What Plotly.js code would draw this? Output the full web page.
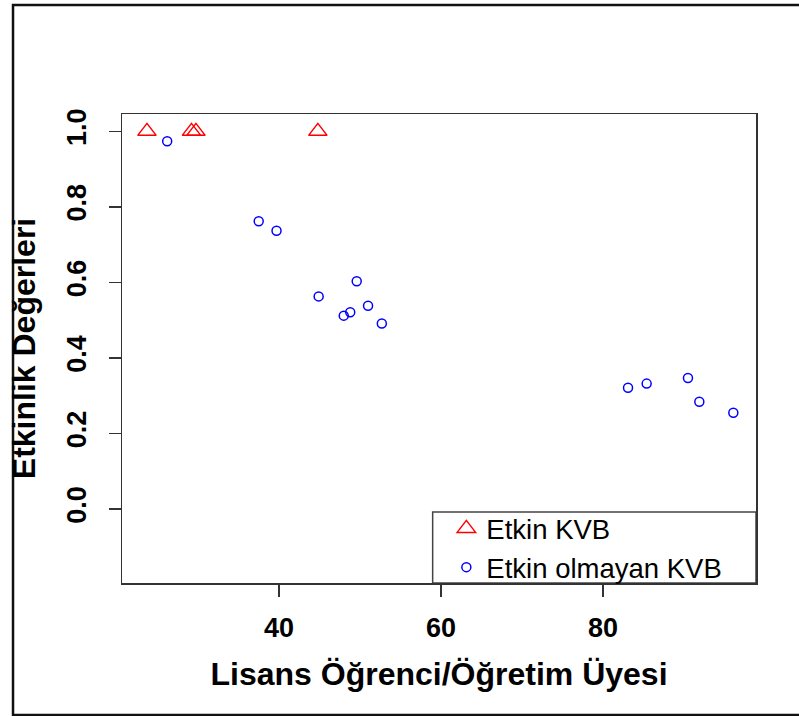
<!DOCTYPE html>
<html>
<head>
<meta charset="utf-8">
<script src="https://cdn.plot.ly/plotly-3.0.1.min.js"></script>
<style>
html,body{margin:0;padding:0;background:#fff;}
#chart{width:799px;height:716px;}
</style>
</head>
<body>
<div id="chart"></div>
<script>
// Etkin KVB (efficient DMUs)
const effX = [23.7, 29.2, 29.75, 44.8];
const effY = [1.0, 1.0, 1.0, 1.0];
// Etkin olmayan KVB (inefficient DMUs)
const ineffX = [26.2, 37.5, 39.7, 44.9, 49.6, 48.0, 48.8, 51.0, 52.7, 83.1, 85.4, 90.5, 91.9, 96.1];
const ineffY = [0.974, 0.762, 0.737, 0.563, 0.603, 0.512, 0.521, 0.538, 0.491, 0.321, 0.332, 0.347, 0.284, 0.255];

const xTicks = [40, 60, 80];
const yTicks = [0.0, 0.2, 0.4, 0.6, 0.8, 1.0];
const yTickText = ["0.0", "0.2", "0.4", "0.6", "0.8", "1.0"];

const seriesNames = ["Etkin KVB", "Etkin olmayan KVB"];
const xTitle = "Lisans Öğrenci/Öğretim Üyesi";
const yTitle = "Etkinlik Değerleri";

const FONT = "Liberation Sans, Arial, sans-serif";
const tickFont = {family: FONT, size: 27, weight: "bold", color: "#000"};
const titleFont = {family: FONT, size: 32, weight: "bold", color: "#000"};

const traces = [
  {
    x: effX, y: effY, name: seriesNames[0], type: "scatter", mode: "markers",
    marker: {symbol: "triangle-up-open", size: 16, color: "#ff0000", line: {color: "#ff0000", width: 1.5}}
  },
  {
    x: ineffX, y: ineffY, name: seriesNames[1], type: "scatter", mode: "markers",
    marker: {symbol: "circle-open", size: 9, color: "#0000ff", line: {color: "#0000ff", width: 1.5}}
  }
];

const layout = {
  width: 799, height: 716,
  margin: {l: 122, r: 43, t: 114, b: 133, pad: 0},
  paper_bgcolor: "#fff", plot_bgcolor: "#fff",
  showlegend: true,
  legend: {
    x: 0.5116, xanchor: "left", y: 0.1684, yanchor: "top",
    borderwidth: 0, bgcolor: "rgba(0,0,0,0)",
    font: {family: FONT, size: 27.5, color: "#000"},
    tracegroupgap: 0, itemwidth: 30
  },
  xaxis: {
    range: [20.62, 98.9], tickmode: "array", tickvals: xTicks,
    ticks: "outside", ticklen: 12, tickwidth: 1.5, tickcolor: "#333",
    showline: true, mirror: true, linecolor: "#333", linewidth: 1.5,
    showgrid: false, zeroline: false, automargin: false,
    tickfont: tickFont, ticklabelstandoff: 8,
    title: {text: xTitle, font: titleFont, standoff: 20}
  },
  yaxis: {
    range: [-0.196, 1.046], tickmode: "array", tickvals: yTicks, ticktext: yTickText,
    ticks: "outside", ticklen: 12, tickwidth: 1.5, tickcolor: "#333",
    showline: true, mirror: true, linecolor: "#333", linewidth: 1.5,
    showgrid: false, zeroline: false, automargin: false,
    tickangle: -90, tickfont: tickFont, ticklabelstandoff: 12,
    title: {text: yTitle, font: titleFont, standoff: 16}
  },
  shapes: [
    {type: "rect", xref: "paper", yref: "paper",
     x0: -0.1719, x1: 1.2, y0: -0.2815, y1: 1.2324,
     line: {color: "#111", width: 2.5}, fillcolor: "rgba(0,0,0,0)", layer: "below"},
    {type: "rect", xref: "paper", yref: "paper",
     x0: 0.490, x1: 1, y0: 0, y1: 0.1514,
     line: {color: "#444", width: 1.5}, fillcolor: "#fff", layer: "below"}
  ]
};

Plotly.newPlot("chart", traces, layout, {displayModeBar: false, staticPlot: true});
</script>
</body>
</html>
